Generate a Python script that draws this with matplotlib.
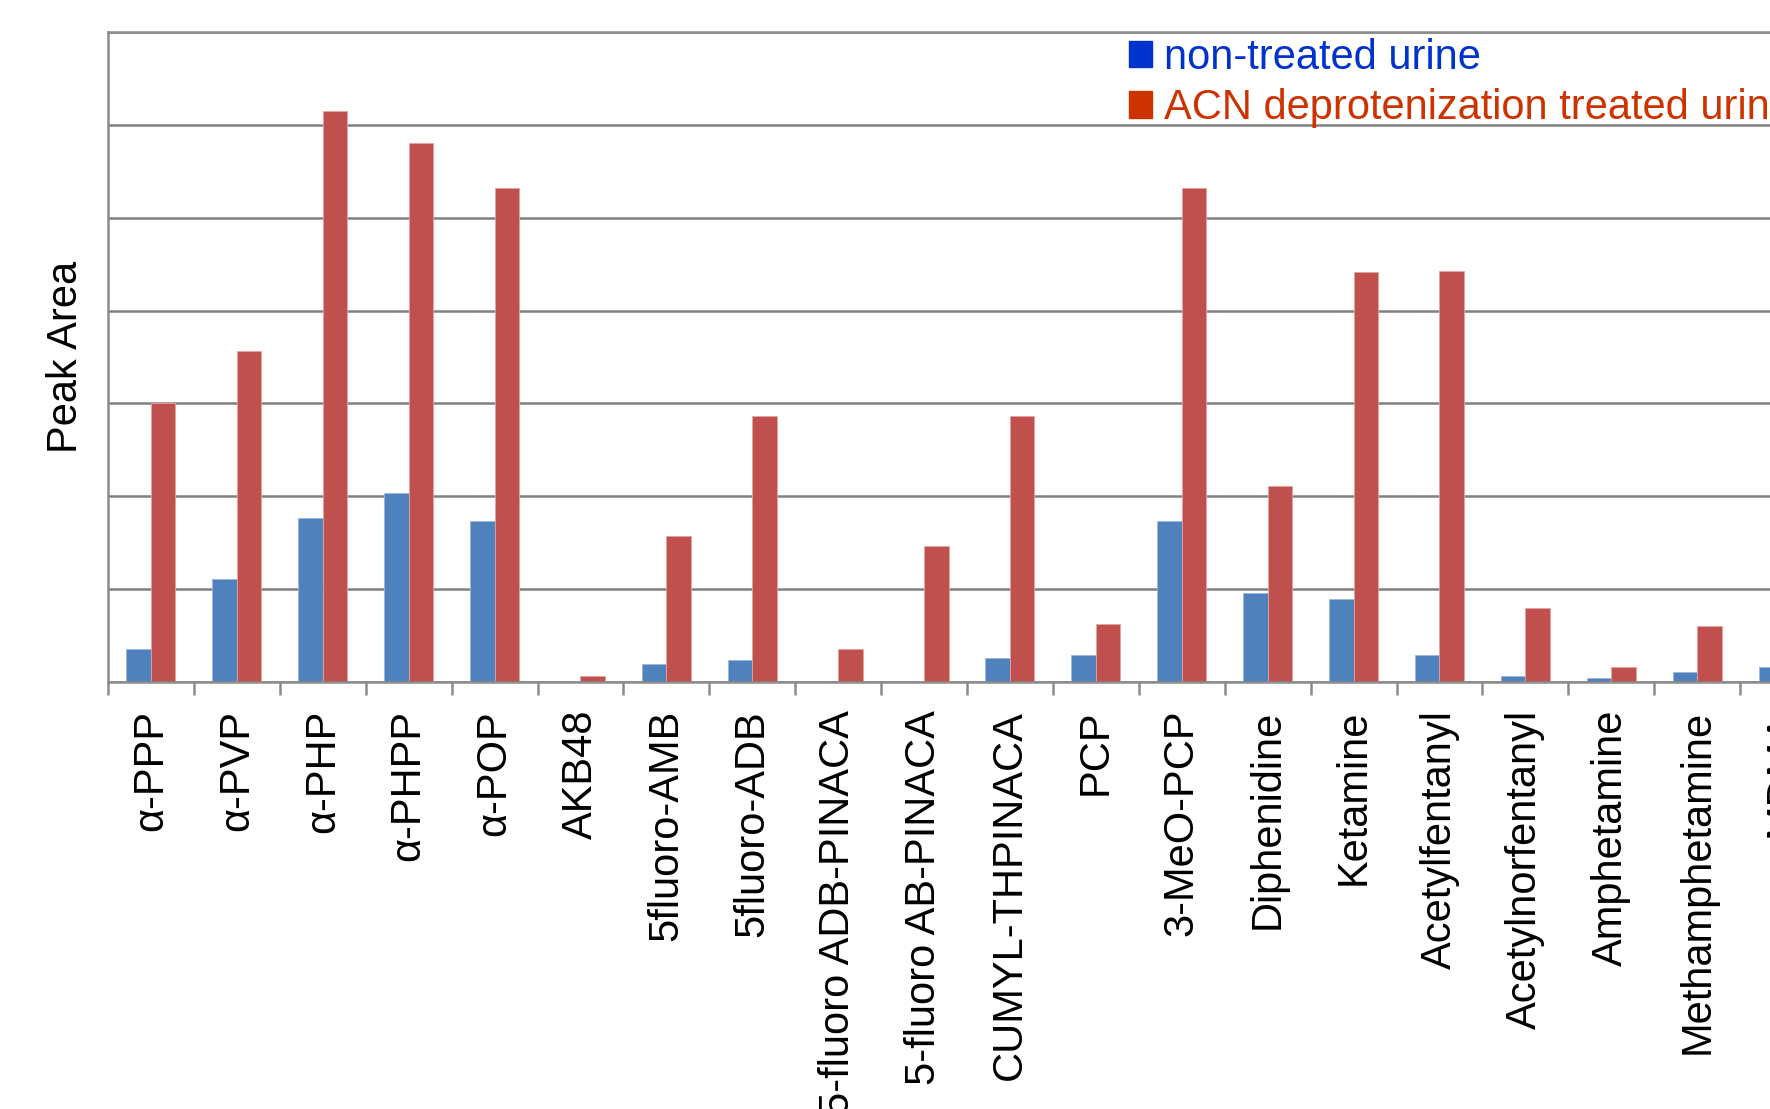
import numpy as np
import matplotlib.pyplot as plt
from matplotlib.patches import Patch

plt.rcParams['font.family'] = ['Liberation Sans', 'DejaVu Sans']

compounds = ['α-PPP', 'α-PVP', 'α-PHP', 'α-PHPP', 'α-POP', 'AKB48',
             '5fluoro-AMB', '5fluoro-ADB', '5-fluoro ADB-PINACA',
             '5-fluoro AB-PINACA', 'CUMYL-THPINACA', 'PCP', '3-MeO-PCP',
             'Diphenidine', 'Ketamine', 'Acetylfentanyl', 'Acetylnorfentanyl',
             'Amphetamine', 'Methamphetamine', 'MDMA']
non_treated = [0.36, 1.11, 1.77, 2.04, 1.73, 0.015, 0.19, 0.24, 0.0, 0.015,
               0.26, 0.29, 1.73, 0.96, 0.89, 0.29, 0.07, 0.04, 0.11, 0.16]
acn_treated = [3.00, 3.57, 6.15, 5.80, 5.32, 0.06, 1.57, 2.86, 0.36, 1.46,
               2.86, 0.62, 5.32, 2.11, 4.42, 4.43, 0.80, 0.16, 0.60, 1.20]

W, H = 1770, 1109
fig = plt.figure(figsize=(W / 100, H / 100), dpi=100)
step = 85.9
ax = fig.add_axes([108 / W, (H - 682) / H, len(compounds) * step / W, 650 / H])

x = np.arange(len(compounds))
w = 0.285
ax.bar(x - w / 2, non_treated, w, color='#4F81BD', edgecolor='#9db7dc', linewidth=0.6)
ax.bar(x + w / 2, acn_treated, w, color='#C0504D', edgecolor='#e3a3a1', linewidth=0.6)

ax.set_xlim(-0.5, len(compounds) - 0.5)
ax.set_ylim(0, 7)
ax.set_yticks(range(8))
ax.yaxis.grid(True, color='#808080', linewidth=1.8)
ax.set_axisbelow(True)
ax.tick_params(axis='y', length=0, labelleft=False)

# ticks between groups, labels under the group centres
ax.set_xticks(np.arange(-0.5, len(compounds), 1))
ax.set_xticklabels([])
ax.tick_params(axis='x', which='major', length=9, width=1.8, color='#8c8c8c')
ax.set_xticks(x, minor=True)
ax.set_xticklabels(compounds, minor=True, rotation=90, fontsize=30)
ax.tick_params(axis='x', which='minor', length=0, pad=20)

for side in ['left', 'top', 'bottom', 'right']:
    ax.spines[side].set_color('#8c8c8c')
    ax.spines[side].set_linewidth(1.8)

ax.set_ylabel('Peak Area', fontsize=30, labelpad=16)

handles = [Patch(color='#0033CC'), Patch(color='#CC3300')]
ax.legend(handles, ['non-treated urine', 'ACN deprotenization treated urine'],
          loc='upper left', bbox_to_anchor=(1108 / W, 1 - 17 / H),
          bbox_transform=fig.transFigure, frameon=False, fontsize=30,
          borderpad=0, handlelength=0.55, handleheight=0.6, handletextpad=0.3,
          labelspacing=0.25, labelcolor=['#0033CC', '#CC3300'])

fig.savefig('out.png', dpi=100)
